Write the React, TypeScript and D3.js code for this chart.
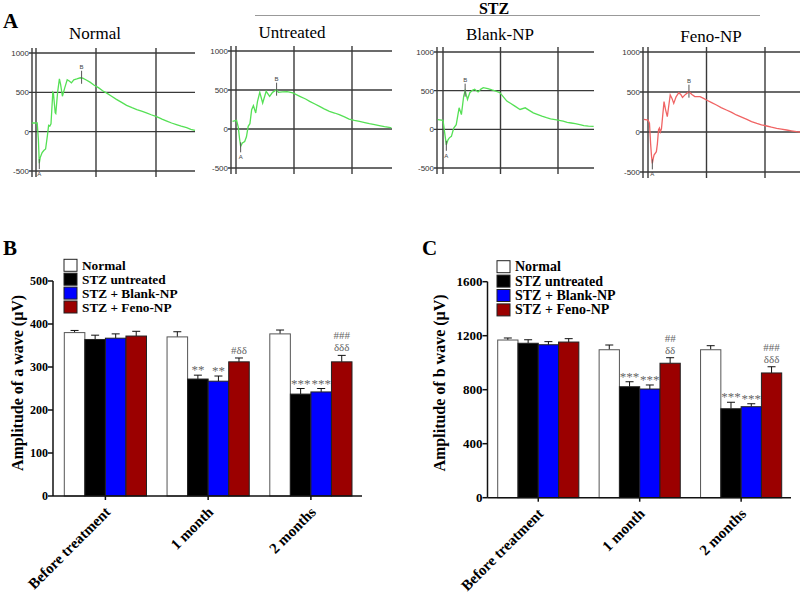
import React from "react";
import * as d3 from "d3";

// ---- panel A: ERG traces, [time ms, amplitude µV] ----
const normalTrace: [number, number][] = [
  [-7, 110], [2, 112], [4, -100], [5.5, -400], [7, -330], [10, -270], [13, -240], [16, -220],
  [19, -50], [21, 80], [23, 70], [25, 100], [28, 500], [29, 490], [32, 240], [33, 230],
  [36, 500], [39, 670], [41, 600], [44, 450], [48, 560], [52, 660], [56, 640], [59, 620],
  [63, 660], [68, 670], [74, 685], [78, 680], [83, 660], [90, 630], [97, 590], [104, 560],
  [111, 520], [118, 490], [126, 450], [134, 410], [142, 375], [151, 335], [160, 305],
  [168, 280], [176, 260], [184, 240], [192, 215], [201, 190], [210, 160], [218, 135],
  [226, 110], [234, 90], [242, 70], [251, 50], [258, 30], [265, 15],
];
const untreatedTrace: [number, number][] = [
  [-6, 98], [1, 111], [4, 20], [6, -115], [8, -222], [11, -180], [15, -160], [18, -100],
  [21, 34], [24, 68], [27, 248], [30, 299], [34, 205], [37, 350], [41, 470], [46, 333],
  [52, 483], [58, 419], [63, 470], [70, 504], [73, 470], [80, 475], [88, 480], [98, 462],
  [110, 419], [120, 385], [127, 355], [136, 320], [144, 290], [152, 258], [161, 226],
  [170, 205], [178, 184], [187, 155], [195, 128], [204, 112], [213, 98], [222, 82],
  [230, 68], [239, 55], [247, 43], [256, 30], [264, 21], [268, 15],
];
const blankTrace: [number, number][] = [
  [-9, 126], [0, 117], [3, -48], [5.8, -200], [8.7, -135], [11, -110], [14.6, -91],
  [18.7, 17], [23, 61], [28, 278], [32, 191], [36, 430], [38.5, 500], [42.6, 387],
  [46.6, 474], [51, 505], [55, 517], [61, 483], [66, 520], [70, 539], [78, 525], [85, 509],
  [92, 495], [99, 474], [105, 420], [111, 365], [118, 335], [125, 300], [134, 257],
  [143, 278], [150, 245], [157, 213], [165, 190], [172, 170], [180, 150], [187, 135],
  [195, 125], [202, 117], [209, 105], [216, 91], [223, 82], [230, 74], [238, 60],
  [245, 48], [253, 42], [262, 39],
];
const fenoTrace: [number, number][] = [
  [-7, 158], [0, 150], [2.5, 110], [4.5, -150], [6, -300], [7.4, -392], [9, -330],
  [10.3, -288], [14.3, -246], [16, -150], [18, 30], [19.5, 50], [21, 0], [23, 40],
  [27.4, 380], [30, 280], [33, 192], [35, 300], [38, 463], [41, 420], [44, 358], [48, 440],
  [52.6, 492], [56, 470], [59, 433], [64, 470], [70, 504], [75, 470], [80, 442], [89, 442],
  [95, 420], [100, 400], [108, 370], [117, 338], [125, 305], [134, 275], [143, 245],
  [151, 213], [160, 185], [169, 158], [177, 130], [186, 108], [194, 90], [203, 75],
  [211, 60], [220, 46], [228, 36], [237, 25], [245, 15], [254, 4], [260, 0],
];
// A-wave / B-wave marker points
const normalMarks: [number, number][] = [[5.5, -400], [76, 685]];
const untreatedMarks: [number, number][] = [[8, -222], [70, 504]];
const blankMarks: [number, number][] = [[5.8, -200], [38.5, 500]];
const fenoMarks: [number, number][] = [[7.4, -392], [70, 504]];
const ergTicks = [1000, 500, 0, -500];
const ergGrid = [100, 200];

// ---- panels B and C ----
const groups = ["Before treatment", "1 month", "2 months"];
const seriesNames = ["Normal", "STZ untreated", "STZ + Blank-NP", "STZ + Feno-NP"];
const seriesColors = ["#ffffff", "#000000", "#0000ff", "#9b0000"];

const aNormal = [380, 370, 377];
const aUntreated = [364, 272, 237];
const aBlank = [367, 267, 242];
const aFeno = [372, 312, 312];
const aNormalErr = [5, 12, 9];
const aUntreatedErr = [10, 9, 13];
const aBlankErr = [10, 12, 8];
const aFenoErr = [11, 9, 15];
const aTicks = [0, 100, 200, 300, 400, 500];

const bNormal = [1168, 1096, 1096];
const bUntreated = [1144, 822, 659];
const bBlank = [1133, 805, 674];
const bFeno = [1153, 996, 924];
const bNormalErr = [15, 35, 30];
const bUntreatedErr = [26, 37, 48];
const bBlankErr = [23, 30, 22];
const bFenoErr = [25, 41, 46];
const bTicks = [0, 400, 800, 1200, 1600];

// significance marks: [lower line, upper line] per group
const aSigUntreated = [[""], ["**"], ["***"]];
const aSigBlank = [[""], ["**"], ["***"]];
const aSigFeno = [[""], ["#δδ"], ["δδδ", "###"]];
const bSigUntreated = [[""], ["***"], ["***"]];
const bSigBlank = [[""], ["***"], ["***"]];
const bSigFeno = [[""], ["δδ", "##"], ["δδδ", "###"]];

const SERIF = "'Liberation Serif', 'Times New Roman', serif";
const SANS = "'Liberation Sans', Arial, sans-serif";

type ErgProps = {
  title: string; titleX: number; titleY: number;
  trace: [number, number][]; marks: [number, number][]; color: string;
  axisX: number; stimX: number; step: number; right: number; y1000: number; yM500: number;
};

function ErgPanel(p: ErgProps) {
  const x = d3.scaleLinear().domain([0, 100]).range([p.stimX, p.stimX + p.step]);
  const y = d3.scaleLinear().domain([1000, -500]).range([p.y1000, p.yM500]);
  const line = d3.line<[number, number]>().x(d => x(d[0])).y(d => y(d[1]));
  const top = p.y1000 - 5;
  const bottom = p.yM500 + 6;
  const [a, b] = p.marks;
  return (
    <g>
      <text x={p.titleX} y={p.titleY} textAnchor="middle" fontFamily={SERIF} fontSize={17}>{p.title}</text>
      {ergTicks.map(t => (
        <g key={t}>
          <line x1={p.axisX - 3} x2={p.right} y1={y(t)} y2={y(t)} stroke="#3a3a3a" strokeWidth={1.4} />
          <text x={p.axisX - 3} y={y(t) + 3} textAnchor="end" fontFamily={SANS} fontSize={8} fill="#333">{t}</text>
        </g>
      ))}
      <line x1={p.axisX} x2={p.axisX} y1={top} y2={bottom} stroke="#3a3a3a" strokeWidth={1.4} />
      <line x1={x(0)} x2={x(0)} y1={top} y2={bottom} stroke="#3a3a3a" strokeWidth={1.4} />
      {ergGrid.map(t => (
        <line key={t} x1={x(t)} x2={x(t)} y1={top} y2={bottom} stroke="#3a3a3a" strokeWidth={1.4} />
      ))}
      <path d={line(p.trace) || ""} fill="none" stroke={p.color} strokeWidth={1.3} />
      <line x1={x(a[0])} x2={x(a[0])} y1={y(a[1]) - 4} y2={y(a[1]) + 6} stroke="#555" strokeWidth={1} />
      <text x={x(a[0])} y={y(a[1]) + 13} textAnchor="middle" fontFamily={SANS} fontSize={6} fill="#444">A</text>
      <line x1={x(b[0])} x2={x(b[0])} y1={y(b[1]) - 7} y2={y(b[1]) + 6} stroke="#555" strokeWidth={1} />
      <text x={x(b[0])} y={y(b[1]) - 9} textAnchor="middle" fontFamily={SANS} fontSize={6} fill="#444">B</text>
    </g>
  );
}

type BarProps = {
  letter: string; letterX: number;
  ylabel: string; ylabelX: number;
  axisX: number; axisRight: number; barStart: number; barEnd: number;
  y0: number; yTopPx: number; yMax: number; ticks: number[]; tickFont: number;
  values: number[][]; errors: number[][]; sig: (string[][] | null)[];
  legendX: number; legendY: number; legendStep: number; legendFont: number;
};

function BarPanel(p: BarProps) {
  const x = d3.scaleBand().domain(groups).range([p.barStart, p.barEnd]).paddingInner(0.2).paddingOuter(0);
  const xs = d3.scaleBand().domain(seriesNames).range([0, x.bandwidth()]).padding(0);
  const y = d3.scaleLinear().domain([0, p.yMax]).range([p.y0, p.yTopPx]);
  return (
    <g>
      <text x={p.letterX} y={255} fontFamily={SERIF} fontWeight="bold" fontSize={21}>{p.letter}</text>
      {/* legend */}
      {seriesNames.map((s, i) => {
        const cy = p.legendY + i * p.legendStep;
        return (
          <g key={s}>
            <rect x={p.legendX} y={cy - 6} width={13} height={12} fill={seriesColors[i]} stroke="#222" strokeWidth={1} />
            <text x={p.legendX + 18} y={cy + 4.5} fontFamily={SERIF} fontWeight="bold" fontSize={p.legendFont}>{s}</text>
          </g>
        );
      })}
      {/* bars */}
      {groups.map((g, gi) =>
        seriesNames.map((s, si) => {
          const v = p.values[si][gi];
          const e = p.errors[si][gi];
          const bx = (x(g) || 0) + (xs(s) || 0);
          const cx = bx + xs.bandwidth() / 2;
          const marks = p.sig[si] ? p.sig[si]![gi] : [];
          const isStar = marks.length > 0 && marks[0].startsWith("*");
          return (
            <g key={g + s}>
              <line x1={cx} x2={cx} y1={y(v)} y2={y(v + e)} stroke="#111" strokeWidth={1} />
              <line x1={cx - 4} x2={cx + 4} y1={y(v + e)} y2={y(v + e)} stroke="#111" strokeWidth={1} />
              <rect x={bx} y={y(v)} width={xs.bandwidth()} height={p.y0 - y(v)} fill={seriesColors[si]}
                stroke={si === 0 ? "#555" : "#222"} strokeWidth={1} />
              {marks.map((m, mi) => m && (
                <text key={mi} x={cx} y={y(v + e) - (isStar ? 1 : 4) - mi * 12} textAnchor="middle"
                  fontFamily={SERIF} fontSize={isStar ? 13 : 11} fill="#666">{m}</text>
              ))}
            </g>
          );
        })
      )}
      {/* axes */}
      <line x1={p.axisX} x2={p.axisX} y1={p.y0} y2={y(p.yMax)} stroke="#111" strokeWidth={1.5} />
      <line x1={p.axisX} x2={p.axisRight} y1={p.y0} y2={p.y0} stroke="#111" strokeWidth={1.5} />
      {p.ticks.map(t => (
        <g key={t}>
          <line x1={p.axisX - 5} x2={p.axisX} y1={y(t)} y2={y(t)} stroke="#111" strokeWidth={1.5} />
          <text x={p.axisX - 5} y={y(t) + 4} textAnchor="end" fontFamily={SERIF} fontWeight="bold" fontSize={p.tickFont}>{t}</text>
        </g>
      ))}
      {groups.map(g => {
        const cx = (x(g) || 0) + x.bandwidth() / 2;
        return (
          <g key={g}>
            <line x1={cx} x2={cx} y1={p.y0} y2={p.y0 + 4} stroke="#111" strokeWidth={1.5} />
            <text transform={`translate(${cx + 6},${p.y0 + 17}) rotate(-45)`} textAnchor="end"
              fontFamily={SERIF} fontWeight="bold" fontSize={15}>{g}</text>
          </g>
        );
      })}
      <text transform={`translate(${p.ylabelX},383) rotate(-90)`} textAnchor="middle"
        fontFamily={SERIF} fontWeight="bold" fontSize={16}>{p.ylabel}</text>
    </g>
  );
}

export default function App() {
  return (
    <svg width={800} height={595} style={{ position: "absolute", left: 0, top: 0, background: "#fff" }}>
      <rect width={800} height={595} fill="#fff" />
      <text x={3} y={28} fontFamily={SERIF} fontWeight="bold" fontSize={21}>A</text>
      <text x={494} y={14} textAnchor="middle" fontFamily={SERIF} fontWeight="bold" fontSize={16}>STZ</text>
      <line x1={255} x2={760} y1={15.5} y2={15.5} stroke="#999" strokeWidth={1} />
      <ErgPanel title="Normal" titleX={95} titleY={39} trace={normalTrace} marks={normalMarks} color="#55e055"
        axisX={32} stimX={36} step={60} right={195} y1000={53} yM500={171} />
      <ErgPanel title="Untreated" titleX={292} titleY={38} trace={untreatedTrace} marks={untreatedMarks} color="#55e055"
        axisX={231} stimX={236} step={58} right={392} y1000={51} yM500={168} />
      <ErgPanel title="Blank-NP" titleX={500} titleY={40} trace={blankTrace} marks={blankMarks} color="#55e055"
        axisX={437} stimX={443} step={57.5} right={594} y1000={52} yM500={168} />
      <ErgPanel title="Feno-NP" titleX={711} titleY={42} trace={fenoTrace} marks={fenoMarks} color="#f06464"
        axisX={643} stimX={648} step={58.5} right={800} y1000={52} yM500={172} />

      <BarPanel letter="B" letterX={3} ylabel="Amplitude of a wave (μV)" ylabelX={23}
        axisX={53} axisRight={362} barStart={64.3} barEnd={352} y0={496} yTopPx={281} yMax={500}
        ticks={aTicks} tickFont={12}
        values={[aNormal, aUntreated, aBlank, aFeno]} errors={[aNormalErr, aUntreatedErr, aBlankErr, aFenoErr]}
        sig={[null, aSigUntreated, aSigBlank, aSigFeno]}
        legendX={64} legendY={265.3} legendStep={13.9} legendFont={13.3} />
      <BarPanel letter="C" letterX={422} ylabel="Amplitude of b wave (μV)" ylabelX={445}
        axisX={487.5} axisRight={791} barStart={497.7} barEnd={781.7} y0={497.7} yTopPx={281.7} yMax={1600}
        ticks={bTicks} tickFont={13}
        values={[bNormal, bUntreated, bBlank, bFeno]} errors={[bNormalErr, bUntreatedErr, bBlankErr, bFenoErr]}
        sig={[null, bSigUntreated, bSigBlank, bSigFeno]}
        legendX={497} legendY={266.7} legendStep={14.4} legendFont={14} />
    </svg>
  );
}
